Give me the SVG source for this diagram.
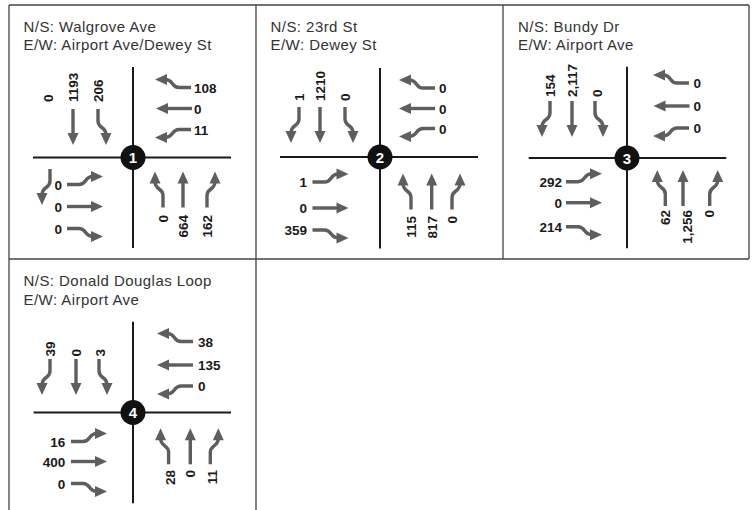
<svg xmlns="http://www.w3.org/2000/svg" xmlns:xlink="http://www.w3.org/1999/xlink" width="752" height="510" viewBox="0 0 752 510">
<style>
.frame{stroke:#444;stroke-width:1.3;fill:none}
.road{stroke:#1a1a1a;stroke-width:2}
.t{font-family:"Liberation Sans",Arial,sans-serif;font-size:15px;fill:#333;letter-spacing:0.45px}
.v{font-family:"Liberation Sans",Arial,sans-serif;font-size:13.5px;font-weight:bold;fill:#1a1a1a}
.e{text-anchor:end}
.n{font-family:"Liberation Sans",Arial,sans-serif;font-size:15px;font-weight:bold;fill:#fff;text-anchor:middle}
</style>
<defs>
<g id="at"><path d="M0,-36V-10" stroke="#5e5e5e" stroke-width="3.4" fill="none"/><polygon points="0,0 -5.5,-12 5.5,-12" fill="#5e5e5e"/></g>
<g id="ap"><path d="M-8,-36V-24C-8,-16 0,-19 0,-10" stroke="#5e5e5e" stroke-width="3.4" fill="none"/><polygon points="0,0 -5.5,-12 5.5,-12" fill="#5e5e5e"/></g>
<g id="an"><path d="M8,-36V-24C8,-16 0,-19 0,-10" stroke="#5e5e5e" stroke-width="3.4" fill="none"/><polygon points="0,0 -5.5,-12 5.5,-12" fill="#5e5e5e"/></g>
</defs>
<rect width="752" height="510" fill="#fff"/>
<g id="frames" class="frame">
<line x1="9" y1="5" x2="749" y2="5"/>
<line x1="9" y1="259" x2="749" y2="259"/>
<line x1="9" y1="5" x2="9" y2="510"/>
<line x1="256" y1="5" x2="256" y2="510"/>
<line x1="503" y1="5" x2="503" y2="259"/>
<line x1="749" y1="5" x2="749" y2="259"/>
</g>

<g id="node1">
<text class="t" x="23.5" y="31.5">N/S: Walgrove Ave</text>
<text class="t" x="23.5" y="49.5">E/W: Airport Ave/Dewey St</text>
<g transform="translate(133,157.5)">
<line class="road" x1="0" y1="-90.5" x2="0" y2="90.5"/>
<line class="road" x1="-100" y1="0" x2="98" y2="0"/>
<text class="v" transform="translate(-80,-55.5) rotate(-90)">0</text>
<text class="v" transform="translate(-55,-55.5) rotate(-90)">1193</text>
<text class="v" transform="translate(-30,-55.5) rotate(-90)">206</text>
<use xlink:href="#at" transform="translate(-60,-12.5)"/>
<use xlink:href="#ap" transform="translate(-27,-12.5)"/>
<text class="v" x="61" y="-65">108</text>
<text class="v" x="61" y="-44">0</text>
<text class="v" x="61" y="-23">11</text>
<use xlink:href="#an" transform="translate(22,-78) rotate(90)"/>
<use xlink:href="#at" transform="translate(23,-49) rotate(90)"/>
<use xlink:href="#ap" transform="translate(22,-20) rotate(90)"/>
<use xlink:href="#ap" transform="translate(22,14) rotate(180)"/>
<use xlink:href="#at" transform="translate(50,14) rotate(180)"/>
<use xlink:href="#an" transform="translate(82,14) rotate(180)"/>
<text class="v e" transform="translate(35,57.5) rotate(-90)">0</text>
<text class="v e" transform="translate(55,57.5) rotate(-90)">664</text>
<text class="v e" transform="translate(79,57.5) rotate(-90)">162</text>
<use xlink:href="#ap" transform="translate(-30,19) rotate(-90)"/>
<use xlink:href="#at" transform="translate(-30,49) rotate(-90)"/>
<use xlink:href="#an" transform="translate(-30,79) rotate(-90)"/>
<use xlink:href="#an" transform="translate(-91,47.5)"/>
<text class="v e" x="-71" y="32">0</text>
<text class="v e" x="-71" y="54">0</text>
<text class="v e" x="-71" y="76">0</text>
<circle r="12.5" fill="#111"/>
<text class="n" y="5.5">1</text>
</g>
</g>

<g id="node2">
<text class="t" x="270.5" y="31.5">N/S: 23rd St</text>
<text class="t" x="270.5" y="49.5">E/W: Dewey St</text>
<g transform="translate(380,157)">
<line class="road" x1="0" y1="-89" x2="0" y2="91.5"/>
<line class="road" x1="-100" y1="0" x2="98" y2="0"/>
<text class="v" transform="translate(-76,-56) rotate(-90)">1</text>
<text class="v" transform="translate(-55,-56) rotate(-90)">1210</text>
<text class="v" transform="translate(-30,-56) rotate(-90)">0</text>
<use xlink:href="#an" transform="translate(-89,-14)"/>
<use xlink:href="#at" transform="translate(-60,-14)"/>
<use xlink:href="#ap" transform="translate(-27,-14)"/>
<text class="v" x="59" y="-64">0</text>
<text class="v" x="59" y="-43">0</text>
<text class="v" x="59" y="-23">0</text>
<use xlink:href="#an" transform="translate(19,-77) rotate(90)"/>
<use xlink:href="#at" transform="translate(19,-48.5) rotate(90)"/>
<use xlink:href="#ap" transform="translate(19,-20.5) rotate(90)"/>
<use xlink:href="#ap" transform="translate(23,16.5) rotate(180)"/>
<use xlink:href="#at" transform="translate(51.7,16.5) rotate(180)"/>
<use xlink:href="#an" transform="translate(80,16.5) rotate(180)"/>
<text class="v e" transform="translate(36,59) rotate(-90)">115</text>
<text class="v e" transform="translate(56.7,59) rotate(-90)">817</text>
<text class="v e" transform="translate(77,59) rotate(-90)">0</text>
<use xlink:href="#ap" transform="translate(-31.5,17) rotate(-90)"/>
<use xlink:href="#at" transform="translate(-31.5,51) rotate(-90)"/>
<use xlink:href="#an" transform="translate(-31.5,81) rotate(-90)"/>
<text class="v e" x="-73" y="30">1</text>
<text class="v e" x="-73" y="56">0</text>
<text class="v e" x="-73" y="78">359</text>
<circle r="12.5" fill="#111"/>
<text class="n" y="5.5">2</text>
</g>
</g>

<g id="node3">
<text class="t" x="518" y="31.5">N/S: Bundy Dr</text>
<text class="t" x="518" y="49.5">E/W: Airport Ave</text>
<g transform="translate(627,158)">
<line class="road" x1="0" y1="-91.3" x2="0" y2="90.3"/>
<line class="road" x1="-98.3" y1="0" x2="99.3" y2="0"/>
<text class="v" transform="translate(-72,-61) rotate(-90)">154</text>
<text class="v" transform="translate(-50,-61) rotate(-90)">2,117</text>
<text class="v" transform="translate(-25,-61) rotate(-90)">0</text>
<use xlink:href="#an" transform="translate(-85,-21)"/>
<use xlink:href="#at" transform="translate(-55,-21)"/>
<use xlink:href="#ap" transform="translate(-24,-21)"/>
<text class="v" x="66.5" y="-70">0</text>
<text class="v" x="66.5" y="-47">0</text>
<text class="v" x="66.5" y="-25">0</text>
<use xlink:href="#an" transform="translate(26,-83) rotate(90)"/>
<use xlink:href="#at" transform="translate(26.5,-52) rotate(90)"/>
<use xlink:href="#ap" transform="translate(26,-22) rotate(90)"/>
<use xlink:href="#ap" transform="translate(30.3,12) rotate(180)"/>
<use xlink:href="#at" transform="translate(56,12) rotate(180)"/>
<use xlink:href="#an" transform="translate(90.7,12) rotate(180)"/>
<text class="v e" transform="translate(43.3,52) rotate(-90)">62</text>
<text class="v e" transform="translate(65,52) rotate(-90)">1,256</text>
<text class="v e" transform="translate(86.7,52) rotate(-90)">0</text>
<use xlink:href="#ap" transform="translate(-25,15.7) rotate(-90)"/>
<use xlink:href="#at" transform="translate(-25,44.7) rotate(-90)"/>
<use xlink:href="#an" transform="translate(-25,76.7) rotate(-90)"/>
<text class="v e" x="-65" y="28.7">292</text>
<text class="v e" x="-65" y="49.7">0</text>
<text class="v e" x="-65" y="73.7">214</text>
<circle r="12.5" fill="#111"/>
<text class="n" y="5.5">3</text>
</g>
</g>

<g id="node4">
<text class="t" x="23.5" y="286">N/S: Donald Douglas Loop</text>
<text class="t" x="23.5" y="305">E/W: Airport Ave</text>
<g transform="translate(133,412.5)">
<line class="road" x1="0" y1="-90.8" x2="0" y2="90.8"/>
<line class="road" x1="-99.4" y1="0" x2="98" y2="0"/>
<text class="v" transform="translate(-78,-56) rotate(-90)">39</text>
<text class="v" transform="translate(-52,-56) rotate(-90)">0</text>
<text class="v" transform="translate(-28,-56) rotate(-90)">3</text>
<use xlink:href="#an" transform="translate(-91,-17.5)"/>
<use xlink:href="#at" transform="translate(-57,-17.5)"/>
<use xlink:href="#ap" transform="translate(-26,-17.5)"/>
<text class="v" x="65" y="-66">38</text>
<text class="v" x="65" y="-42.5">135</text>
<text class="v" x="65" y="-21.5">0</text>
<use xlink:href="#an" transform="translate(24,-79) rotate(90)"/>
<use xlink:href="#at" transform="translate(24,-47.5) rotate(90)"/>
<use xlink:href="#ap" transform="translate(24,-18.5) rotate(90)"/>
<use xlink:href="#ap" transform="translate(27.6,15.8) rotate(180)"/>
<use xlink:href="#at" transform="translate(57.3,15.8) rotate(180)"/>
<use xlink:href="#an" transform="translate(85.3,15.8) rotate(180)"/>
<text class="v e" transform="translate(42.3,57.5) rotate(-90)">28</text>
<text class="v e" transform="translate(62.3,57.5) rotate(-90)">0</text>
<text class="v e" transform="translate(84,57.5) rotate(-90)">11</text>
<use xlink:href="#ap" transform="translate(-26,21) rotate(-90)"/>
<use xlink:href="#at" transform="translate(-26,49) rotate(-90)"/>
<use xlink:href="#an" transform="translate(-26,79) rotate(-90)"/>
<text class="v e" x="-67.7" y="34">16</text>
<text class="v e" x="-67.7" y="54">400</text>
<text class="v e" x="-67.7" y="76">0</text>
<circle r="12.5" fill="#111"/>
<text class="n" y="5.5">4</text>
</g>
</g>
</svg>
